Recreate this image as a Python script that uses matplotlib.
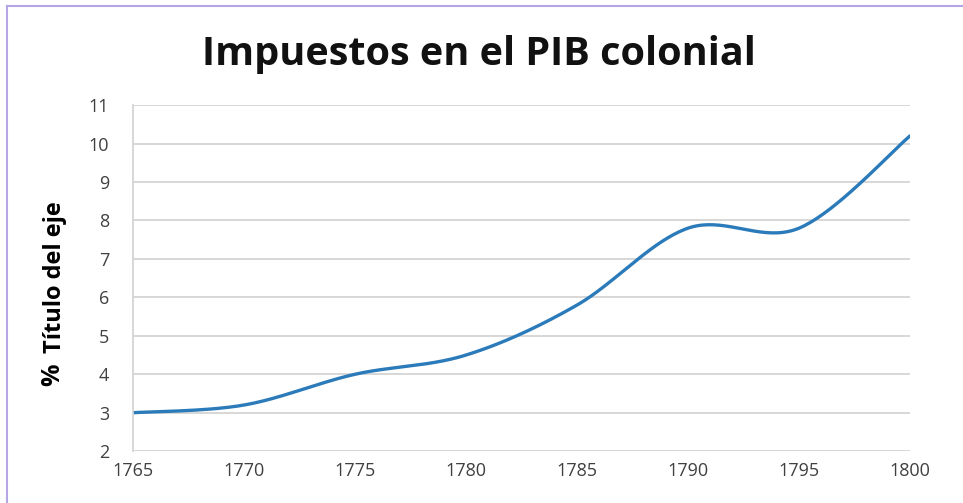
import numpy as np
import matplotlib.pyplot as plt
from matplotlib.lines import Line2D

years = [1765, 1770, 1775, 1780, 1785, 1790, 1795, 1800]
tax_pct = [3.0, 3.2, 4.0, 4.5, 5.8, 7.8, 7.8, 10.2]
xticks = [1765, 1770, 1775, 1780, 1785, 1790, 1795, 1800]
yticks = list(range(2, 12))


def smooth(xs, ys, n=40):
    # excel style smoothed line (catmull-rom through the points)
    p = np.column_stack([xs, ys]).astype(float)
    p = np.vstack([p[0], p, p[-1]])
    out = []
    for i in range(1, len(p) - 2):
        p0, p1, p2, p3 = p[i - 1], p[i], p[i + 1], p[i + 2]
        t = np.linspace(0, 1, n)[:, None]
        c1 = p1 + (p2 - p0) / 6
        c2 = p2 - (p3 - p1) / 6
        seg = (1 - t) ** 3 * p1 + 3 * (1 - t) ** 2 * t * c1 + 3 * (1 - t) * t ** 2 * c2 + t ** 3 * p2
        out.append(seg)
    out = np.vstack(out)
    return out[:, 0], out[:, 1]


fig = plt.figure(figsize=(9.63, 5.03), dpi=100)
ax = fig.add_axes([0.138, 0.103, 0.807, 0.688])

sx, sy = smooth(years, tax_pct)
ax.plot(sx, sy, color='#2b7bba', lw=2.4, solid_capstyle='round')

ax.set_xlim(1765, 1800)
ax.set_ylim(2, 11)
ax.set_xticks(xticks)
ax.set_yticks(yticks)
ax.grid(axis='y', color='#d4d4d4', lw=1.3)
ax.set_axisbelow(True)
for s in ['top', 'right', 'bottom']:
    ax.spines[s].set_visible(False)
ax.spines['left'].set_color('#d4d4d4')
ax.spines['left'].set_linewidth(1.3)
ax.tick_params(length=0, labelsize=13, labelcolor='#404040')
ax.tick_params(axis='y', pad=17)
ax.tick_params(axis='x', pad=8)
for lab in ax.get_xticklabels() + ax.get_yticklabels():
    lab.set_family('Open Sans')

fig.text(0.497, 0.892, 'Impuestos en el PIB colonial', ha='center', va='center',
         fontsize=28.5, fontweight='bold', family='Open Sans', color='#111111')
fig.text(0.055, 0.254, '%', rotation=90, ha='center', va='center',
         fontsize=18, fontweight='bold', family='Open Sans')
fig.text(0.057, 0.45, 'Título del eje', rotation=90, ha='center', va='center',
         fontsize=17, fontweight='bold', family='Open Sans')

# frame lines of the slide
fig.add_artist(Line2D([0.007, 1.0], [0.988, 0.988], color='#b7a6e6', lw=1.5))
fig.add_artist(Line2D([0.007, 0.007], [0.0, 0.988], color='#b7a6e6', lw=1.5))

fig.savefig('out.png', dpi=100)
